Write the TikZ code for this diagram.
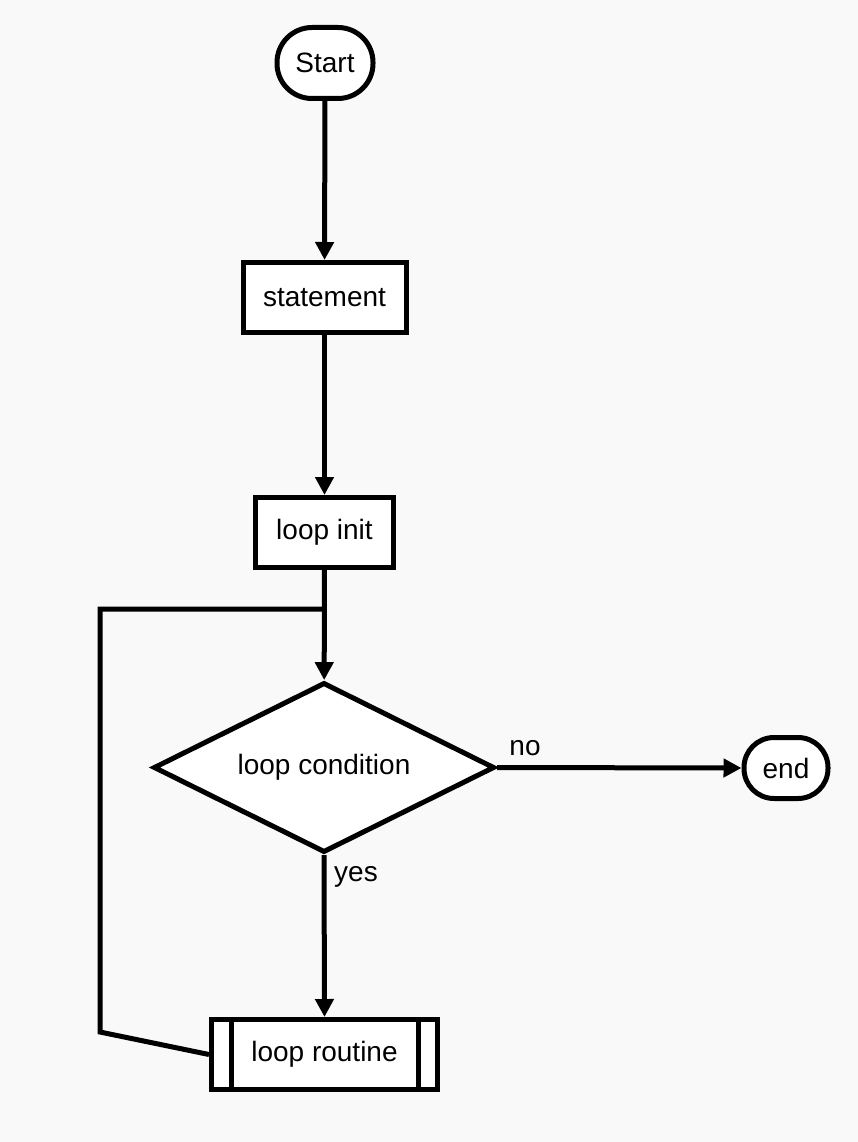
\documentclass[tikz,border=0pt]{standalone}
\usepackage{fontspec}
\setmainfont{Liberation Sans}
\usetikzlibrary{arrows.meta,shapes.geometric}
\definecolor{bgc}{HTML}{F9F9F9}
\begin{document}
\begin{tikzpicture}[x=1pt,y=-1pt,
  lw/.style={line width=5pt},
  txt/.style={font=\fontsize{28}{32}\selectfont},
  term/.style={lw,draw,fill=white,rounded corners=35pt,inner sep=0pt,txt},
  proc/.style={lw,draw,fill=white,inner sep=0pt,minimum height=70pt,txt},
  dec/.style={lw,draw,fill=white,diamond,inner sep=0pt,minimum width=341pt,minimum height=170pt,aspect=2,txt},
  conn/.style={lw,-{Triangle[length=18pt,width=18pt]}},
  lbl/.style={inner sep=0pt,txt}]
\fill[bgc] (0,0) rectangle (858,1142);
\useasboundingbox (0,0) rectangle (858,1142);
\node[term,minimum width=96pt,minimum height=71pt] (start) at (325,63) {Start};
\node[proc,minimum width=163pt] (stmt) at (324.5,297.5) {statement};
\node[proc,minimum width=138pt] (init) at (324.5,532.5) {loop init};
\node[dec] (cond) at (324,767.5) {loop condition};
\node[term,rounded corners=30pt,minimum width=84pt,minimum height=61pt] (end) at (786,768) {end};
\node[proc,minimum width=226pt] (rout) at (324.5,1054.5) {loop routine};
\draw[lw] ([xshift=22pt]rout.north west) -- ([xshift=22pt]rout.south west);
\draw[lw] ([xshift=-22pt]rout.north east) -- ([xshift=-22pt]rout.south east);
\draw[conn] (start) -- (stmt);
\draw[conn] (stmt) -- (init);
\draw[conn] (init) -- (cond);
\draw[conn] (cond.east) -- (end.west);
\draw[conn] (cond.south) -- (rout.north);
\coordinate (merge) at (324.5,609);
\coordinate (c1) at (100,1032);
\coordinate (c2) at (100,609);
\draw[lw] (rout.west) -- (c1) -- (c2) -- (merge);
\node[lbl] (no) at (525,748) {no};
\node[lbl] (yes) at (356,877) {yes};
\end{tikzpicture}
\end{document}
